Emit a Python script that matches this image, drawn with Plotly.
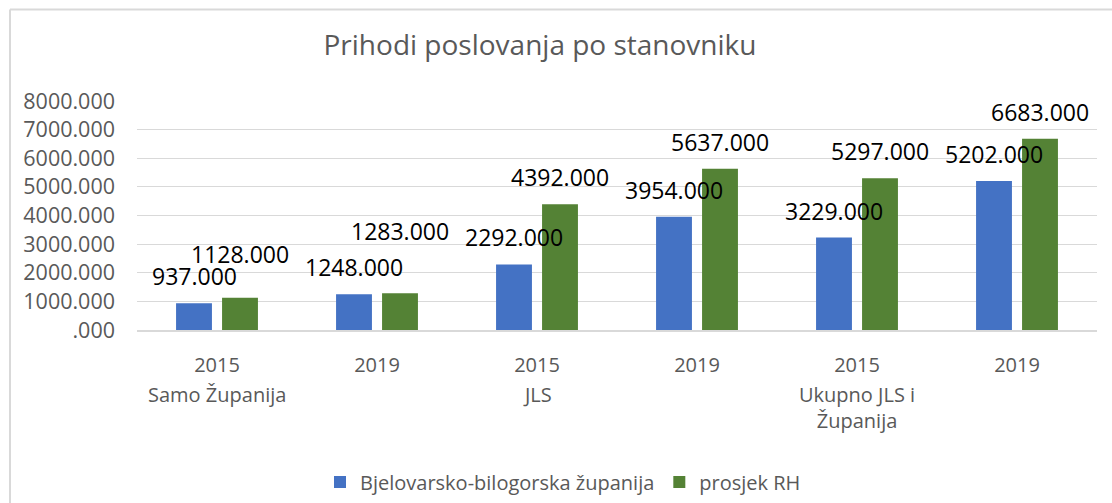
import plotly.graph_objects as go

# ---- data ----
years = ["2015", "2019", "2015", "2019", "2015", "2019"]
groups = ["Samo Županija", "JLS", "Ukupno JLS i<br>Županija"]
group_first_index = [0, 2, 4]
series_names = ["Bjelovarsko-bilogorska županija", "prosjek RH"]
bbz_values = [937, 1248, 2292, 3954, 3229, 5202]
rh_values = [1128, 1283, 4392, 5637, 5297, 6683]
y_tick_values = [0, 1000, 2000, 3000, 4000, 5000, 6000, 7000, 8000]
y_tick_labels = [".000", "1000.000", "2000.000", "3000.000", "4000.000",
                 "5000.000", "6000.000", "7000.000", "8000.000"]

# ---- style ----
BLUE = "#4472C4"
GREEN = "#548235"
GREY_TXT = "#595959"
GRID = "#D9D9D9"
FONT = "Open Sans"
# vertical lift (px) of each data label's centre above its bar top
bbz_lift = [27, 27, 27, 27, 27, 27]
rh_lift = [44, 62, 27, 27, 27, 27]
bar_half_offset_px = 23

x = list(range(len(years)))

fig = go.Figure()
fig.add_trace(go.Bar(x=x, y=bbz_values, name=series_names[0],
                     marker=dict(color=BLUE, line=dict(width=0))))
fig.add_trace(go.Bar(x=x, y=rh_values, name=series_names[1],
                     marker=dict(color=GREEN, line=dict(width=0))))

annotations = []
for xi, v, lift in zip(x, bbz_values, bbz_lift):
    annotations.append(dict(x=xi, y=v, xref="x", yref="y", text=f"{v}.000",
                            showarrow=False, xshift=-bar_half_offset_px, yshift=lift,
                            yanchor="middle", xanchor="center",
                            font=dict(family=FONT, size=23, color="black")))
for xi, v, lift in zip(x, rh_values, rh_lift):
    annotations.append(dict(x=xi, y=v, xref="x", yref="y", text=f"{v}.000",
                            showarrow=False, xshift=bar_half_offset_px, yshift=lift,
                            yanchor="middle", xanchor="center",
                            font=dict(family=FONT, size=23, color="black")))
for gi, g in zip(group_first_index, groups):
    annotations.append(dict(x=gi, y=0, xref="x", yref="paper", text=g,
                            showarrow=False, yanchor="top", yshift=-49,
                            xanchor="center",
                            font=dict(family=FONT, size=20, color=GREY_TXT)))

fig.update_layout(
    width=1112, height=503,
    margin=dict(l=137, r=15, t=101, b=173),
    paper_bgcolor="white", plot_bgcolor="white",
    barmode="group", bargap=0.425, bargroupgap=0.22,
    title=dict(text="Prihodi poslovanja po stanovniku",
               font=dict(family=FONT, size=28, color=GREY_TXT),
               xref="container", x=540 / 1112, xanchor="center",
               yref="container", y=1 - 45 / 503, yanchor="middle"),
    xaxis=dict(range=[-0.5, 5.5], tickmode="array", tickvals=x, ticktext=years,
               tickfont=dict(family=FONT, size=20, color=GREY_TXT),
               showgrid=False, zeroline=False, showline=True,
               linecolor=GRID, linewidth=1.5, ticks="",
               ticklabelstandoff=16, fixedrange=True),
    yaxis=dict(range=[0, 8000], tickmode="array", tickvals=y_tick_values,
               ticktext=y_tick_labels,
               tickfont=dict(family=FONT, size=21.5, color=GREY_TXT),
               showgrid=True, gridcolor=GRID, gridwidth=1.2,
               zeroline=False, showline=False, ticks="",
               ticklabelstandoff=21, fixedrange=True),
    legend=dict(orientation="h", xref="container", x=563 / 1112, xanchor="center",
                yref="container", y=1 - 482 / 503, yanchor="middle",
                font=dict(family=FONT, size=20, color=GREY_TXT),
                traceorder="normal"),
    annotations=annotations,
    shapes=[
        dict(type="line", xref="paper", yref="paper",
             x0=(10 - 137) / 960, x1=1.05, y0=(330 - 9.5) / 229, y1=(330 - 9.5) / 229,
             line=dict(color=GRID, width=2)),
        dict(type="line", xref="paper", yref="paper",
             x0=(10 - 137) / 960, x1=(10 - 137) / 960, y0=(330 - 9.5) / 229, y1=-1,
             line=dict(color=GRID, width=2)),
    ],
)

fig.write_html("out.html", config={"displayModeBar": False},
               post_script="document.body.style.margin='0';")
